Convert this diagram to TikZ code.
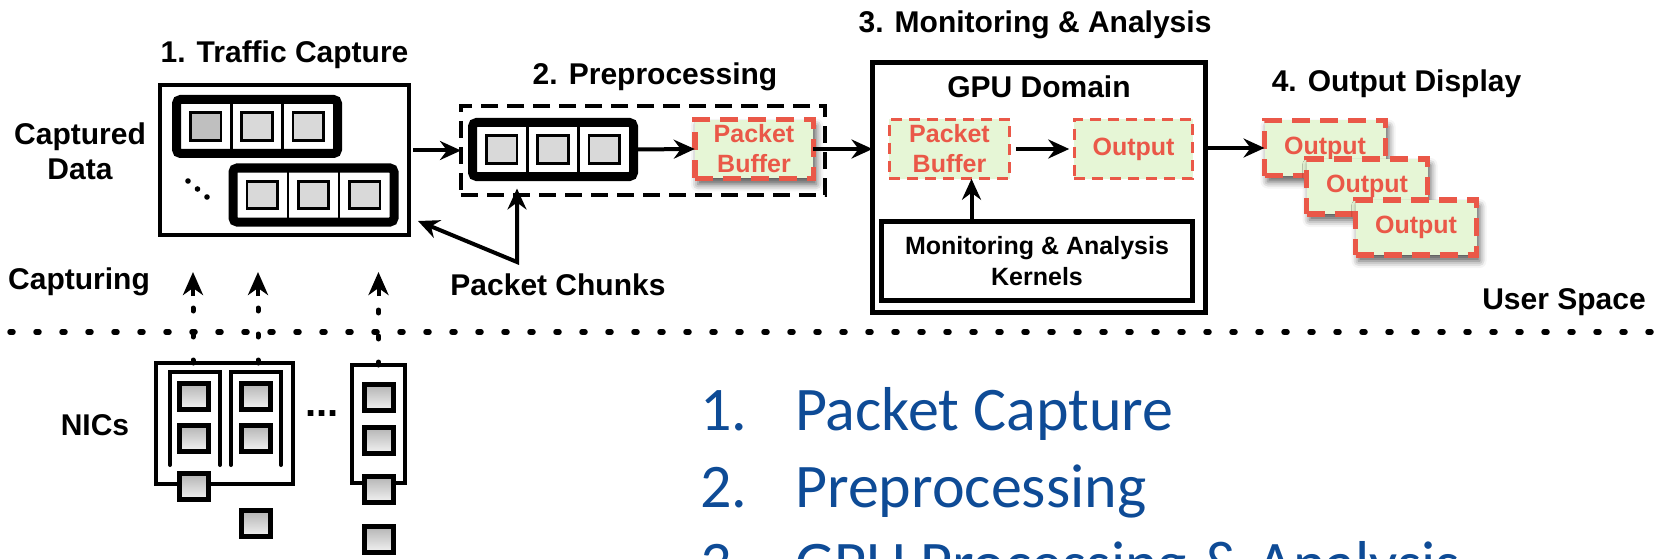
\documentclass[tikz,border=0pt]{standalone}
\usepackage{fontspec}
\setmainfont{Liberation Sans}
\newfontfamily\slidefont{Carlito}
\usetikzlibrary{arrows.meta, positioning, calc, shadows, shadows.blur}
\definecolor{bufred}{RGB}{234,88,72}
\definecolor{bufgreen}{RGB}{230,246,214}
\definecolor{cellgray}{RGB}{217,217,217}
\definecolor{slideblue}{RGB}{14,75,150}
\tikzset{
  ttl/.style={font=\fontsize{30}{35}\selectfont\bfseries, inner sep=0pt, align=center},
  boxframe/.style={rectangle, draw, line width=4pt, inner sep=0pt, outer sep=0pt},
  chunk/.style={rectangle, draw, fill=white, line width=9pt, rounded corners=4pt, minimum width=161pt, minimum height=54pt, outer sep=0pt},
  pktsq/.style={rectangle, draw, fill=cellgray, line width=2.8pt, minimum width=30.5pt, minimum height=27.5pt, inner sep=0pt},
  chunka-1/.style={fill=black!25},
  nicsq/.style={rectangle, draw, line width=5pt, top color=black!30, bottom color=black!5, minimum width=29pt, minimum height=26pt, inner sep=0pt},
  redbox/.style={rectangle, draw=bufred, fill=bufgreen, text=bufred, font=\fontsize{25}{30}\selectfont\bfseries, align=center, inner sep=0pt, outer sep=0pt},
  redbuf/.style={redbox, line width=5.5pt, dash pattern=on 18pt off 10pt, minimum width=121pt, minimum height=55pt, blur shadow={shadow xshift=3pt, shadow yshift=-6pt, shadow blur radius=7pt, shadow opacity=65}},
  redthin/.style={redbox, line width=2.8pt, dash pattern=on 11pt off 7pt, minimum width=120.5pt, minimum height=59.5pt},
  arr/.style={-{Stealth[length=21pt, width=19pt, inset=7pt]}, line width=4pt},
  dblarr/.style={{Stealth[length=21pt, width=19pt, inset=7pt]}-{Stealth[length=21pt, width=19pt, inset=7pt]}, line width=4pt},
  dotline/.style={line width=5pt, line cap=round, dash pattern=on 3pt off 23pt},
  captip/.style={-{Stealth[length=23pt, width=20pt, inset=7pt]}, line width=4pt},
  userline/.style={line width=5.5pt, line cap=round, dash pattern=on 3pt off 23pt},
  slidetxt/.style={font=\slidefont\fontsize{62}{77}\selectfont, text=slideblue, inner sep=0pt, anchor=base west},
}
\begin{document}
\begin{tikzpicture}[x=1pt, y=1pt]
  \useasboundingbox (0,0) rectangle (1668,-559);
  \clip (0,0) rectangle (1668,-559);

  % Traffic Capture
  \node[boxframe, minimum width=249pt, minimum height=150pt] (trafbox) at (284.5,-160) {};
  \node[chunk] (chunka) at (257,-126.5) {};
  \node[chunk] (chunkb) at (313.5,-195) {};
  \node[ttl, above=16pt of trafbox] (traflbl) {1. Traffic Capture};
  \node[ttl] (caplbl) at (80,-151.5) {Captured\\Data};
  \foreach \i in {0,1,2}
    \fill (188+9.5*\i, -181-8*\i) circle (2.8pt);

  % Preprocessing
  \node[boxframe, dash pattern=on 17pt off 9pt, minimum width=364pt, minimum height=89pt] (prepbox) at (643,-150.5) {};
  \node[chunk] (chunkc) at (553,-149.5) {};
  \node[redbuf, minimum width=118.5pt, minimum height=58.5pt] (pbufa) at (754,-149) {Packet\\Buffer};
  \node[ttl, above=15pt of prepbox, xshift=12pt] (preplbl) {2. Preprocessing};

  % cells of the chunks
  \foreach \c in {chunka,chunkb,chunkc} {
    \foreach \dx in {-25.7,25.7}
      \draw[line width=2.5pt] ([shift={(\dx,23)}]\c.center) -- ([shift={(\dx,-23)}]\c.center);
    \foreach \dx [count=\i] in {-51.3,0,51.3}
      \node[pktsq, \c-\i/.try] (\c-sq\i) at ([xshift=\dx pt]\c.center) {};
  }

  % GPU Domain
  \node[boxframe, line width=5pt, minimum width=333pt, minimum height=250pt] (gpubox) at (1039,-187.5) {};
  \node[ttl, above=23pt of gpubox, xshift=-4pt] (monlbl) {3. Monitoring \& Analysis};
  \node[ttl, below=13pt of gpubox.north] (gpulbl) {GPU Domain};
  \node[redthin] (pbufb) at (949.5,-149) {Packet\\Buffer};
  \node[redthin, minimum width=118.5pt] (gout) at (1133.5,-149) {Output};
  \node[boxframe, line width=5pt, minimum width=311pt, minimum height=79pt, font=\fontsize{25}{31}\selectfont\bfseries, align=center] (kernbox) at (1037,-261) {Monitoring \& Analysis\\Kernels};

  % Output Display
  \node[redbuf] (outa) at (1325,-148) {Output};
  \node[redbuf] (outb) at ([shift={(42,-38.5)}]outa.center) {Output};
  \node[redbuf] (outc) at ([shift={(49,-41)}]outb.center) {Output};
  \node[ttl, anchor=base] (outlbl) at (1396.5,-92) {4. Output Display};

  % data path
  \draw[arr] ($(trafbox.east |- prepbox.west)+(4,0)$) -- (prepbox.west);
  \draw[arr] (chunkc.east) -- (pbufa.west);
  \draw[arr] (pbufa.east) -- (gpubox.west |- pbufa.east);
  \draw[arr, shorten <=6pt, shorten >=5pt] (pbufb.east) -- (gout.west);
  \draw[arr] ($(pbufb.south |- kernbox.north)+(22,0)$) -- ($(pbufb.south)+(22,0)$);
  \draw[arr] (gpubox.east |- outa.west) -- (outa.west);

  % Packet Chunks
  \coordinate (pcj) at (517,-262);
  \draw[dblarr] ($(trafbox.south east)+(9,14)$) -- (pcj) -- ($(chunkc.south -| pcj)+(0,-12)$);
  \node[ttl, anchor=base] (chunklbl) at (558,-295) {Packet Chunks};

  % user / kernel border
  \coordinate (sepl) at (10,-332);
  \coordinate (sepr) at (1668,-332);
  \draw[userline] (sepl) -- (sepr);
  \node[ttl, anchor=base] (userlbl) at (1564,-309) {User Space};
  \node[ttl, anchor=base] (capturinglbl) at (79,-289) {Capturing};

  % NICs
  \node[boxframe, minimum width=137pt, minimum height=121pt] (nica) at (224.5,-423.5) {};
  \draw[line width=4pt, line cap=round] (170,-465) |- (220,-372) -- (220,-465);
  \draw[line width=4pt, line cap=round] (231,-465) |- (281,-372) -- (281,-465);
  \node[boxframe, minimum width=53pt, minimum height=118pt] (nicb) at (378.5,-424) {};
  \foreach \x/\y [count=\i] in {193.5/396, 193.5/438, 256/396, 256/438, 194/486.5, 256/523.5, 379/397.5, 379/440, 379/489, 379/539}
    \node[nicsq] (nicsq\i) at (\x,-\y) {};
  \node[ttl, anchor=base] (nicdots) at (322,-416) {\fontsize{40}{40}\selectfont...};
  \node[ttl, anchor=base] (niclbl) at (95,-435) {NICs};

  % capturing arrows
  \coordinate (capa) at (193,-272);
  \coordinate (capb) at (258,-272);
  \coordinate (capc) at (378.5,-272);
  \draw[dotline] (nica.north -| capa) -- (capa);
  \draw[dotline] (nica.north -| capb) -- (capb);
  \draw[dotline] (nicb.north) -- (capc);
  \foreach \p in {capa,capb,capc}
    \draw[captip] ($(\p)+(0,-24)$) -- (\p);

  % slide text
  \foreach \n/\t [count=\i] in {1/Packet Capture, 2/Preprocessing, 3/{GPU Processing \& Analysis}} {
    \node[slidetxt] (num\i) at (700,{-353-77*\i}) {\n.};
    \node[slidetxt] (item\i) at (795,{-353-77*\i}) {\t};
  }
\end{tikzpicture}
\end{document}
